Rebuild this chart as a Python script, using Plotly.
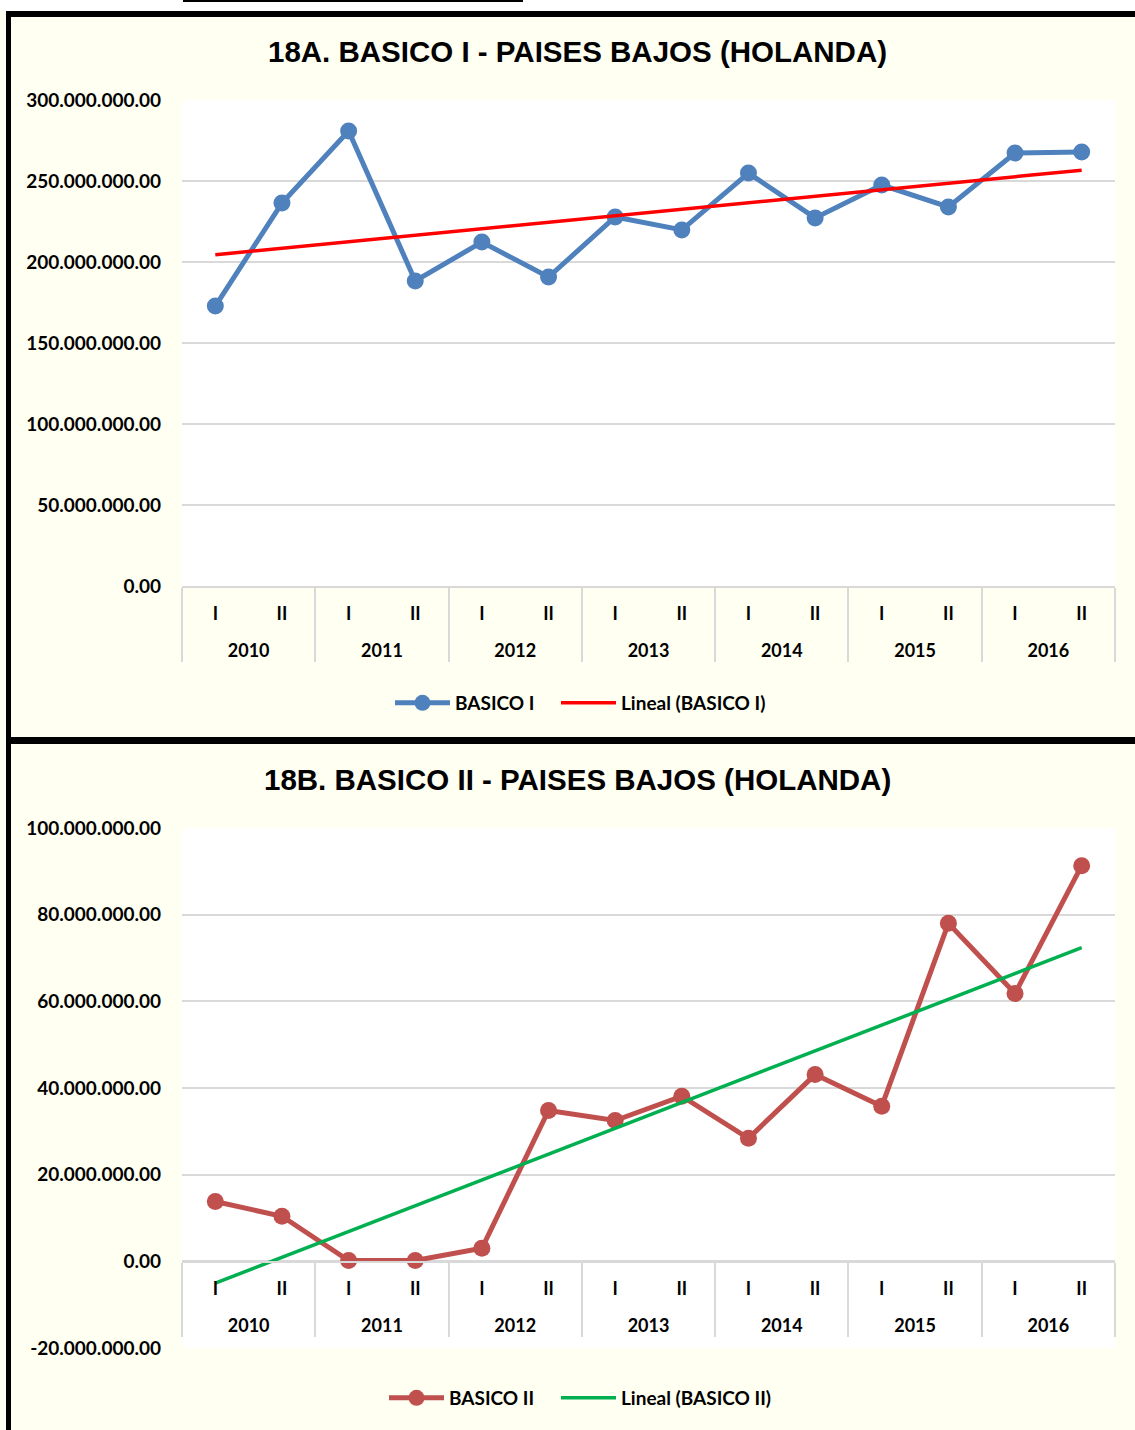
import numpy as np
import plotly.graph_objects as go

W, H = 1135, 1430

years = ["2010", "2011", "2012", "2013", "2014", "2015", "2016"]
halves = ["I", "II"]

# valores
basico_1 = [172.8e6, 236.4e6, 280.9e6, 188.3e6, 212.3e6, 190.7e6, 227.8e6,
            219.8e6, 254.9e6, 227.2e6, 247.5e6, 234.0e6, 267.3e6, 267.9e6]
basico_2 = [13.8e6, 10.4e6, 0.2e6, 0.2e6, 3.0e6, 34.8e6, 32.5e6,
            38.1e6, 28.4e6, 43.1e6, 35.8e6, 78.0e6, 61.8e6, 91.3e6]

ticks_1 = [0, 50e6, 100e6, 150e6, 200e6, 250e6, 300e6]
ticks_2 = [-20e6, 0, 20e6, 40e6, 60e6, 80e6, 100e6]

# el <br> baja la fila de los años
x_years = ["<br>" + y for y in years for h in halves]
x_halves = [h for y in years for h in halves]
xcat = [x_years, x_halves]


def fmt(v):
    return f"{v:,.2f}".replace(",", ".")


def trend(vals):
    t = np.arange(1, len(vals) + 1)
    a, b = np.polyfit(t, vals, 1)
    return a * t + b


def px(x):
    return x / W


def py(y):
    return 1 - y / H


CREAM = "#FFFFF2"
GRID = "#D9D9D9"
font_lbl = dict(family="Lato", size=18, color="black", weight="bold")
font_tick = dict(family="Lato", size=19, color="black", weight="bold")
font_leg = dict(family="Lato", size=19, color="black", weight="bold")

fig = go.Figure()

fig.add_trace(go.Scatter(
    x=xcat, y=basico_1, mode="lines+markers", name="BASICO I",
    line=dict(color="#4F81BD", width=5), marker=dict(size=17, color="#4F81BD"),
    xaxis="x", yaxis="y", legend="legend"))
fig.add_trace(go.Scatter(
    x=xcat, y=trend(basico_1), mode="lines", name="Lineal (BASICO I)",
    line=dict(color="#FF0000", width=3.5),
    xaxis="x", yaxis="y", legend="legend3"))

fig.add_trace(go.Scatter(
    x=xcat, y=basico_2, mode="lines+markers", name="BASICO II",
    line=dict(color="#C0504D", width=5), marker=dict(size=17, color="#C0504D"),
    xaxis="x2", yaxis="y2", legend="legend2"))
fig.add_trace(go.Scatter(
    x=xcat, y=trend(basico_2), mode="lines", name="Lineal (BASICO II)",
    line=dict(color="#00B050", width=3.5),
    xaxis="x2", yaxis="y2", legend="legend4"))

xax = dict(type="multicategory", showgrid=False, showline=True,
           linecolor=GRID, linewidth=1.5, showdividers=True,
           dividercolor=GRID, dividerwidth=1.5, tickfont=font_lbl,
           ticklabelstandoff=11, range=[-0.5, 13.5],
           domain=[px(182), px(1115)])
yax = dict(showgrid=True, gridcolor=GRID, gridwidth=1.5, zeroline=False,
           tickfont=font_tick, ticklabelstandoff=20, showline=False)


def leg(x, y):
    return dict(orientation="h", x=px(x), xanchor="left", y=py(y),
                yanchor="middle", font=font_leg, itemwidth=55,
                bgcolor="rgba(0,0,0,0)")


fig.update_layout(
    width=W, height=H,
    margin=dict(l=0, r=0, t=0, b=0, autoexpand=False),
    paper_bgcolor=CREAM, plot_bgcolor="white",
    xaxis=dict(xax, anchor="y"),
    yaxis=dict(yax, domain=[py(586), py(100)], range=[0, 300e6],
               tickvals=ticks_1, ticktext=[fmt(v) for v in ticks_1]),
    xaxis2=dict(xax, anchor="free", position=py(1262)),
    yaxis2=dict(yax, domain=[py(1348), py(828)], range=[-20e6, 100e6],
                tickvals=ticks_2, ticktext=[fmt(v) for v in ticks_2],
                anchor="x2"),
    legend=leg(390, 703),
    legend3=leg(556, 703),
    legend2=leg(384, 1398),
    legend4=leg(556, 1398),
    showlegend=True,
)

title_font = dict(family="Liberation Sans", size=29.5, color="black", weight="bold")
fig.add_annotation(text="18A. BASICO I - PAISES BAJOS (HOLANDA)", xref="paper", yref="paper",
                   x=px(577), y=py(51), xanchor="center", yanchor="middle",
                   showarrow=False, font=title_font)
fig.add_annotation(text="18B. BASICO II - PAISES BAJOS (HOLANDA)", xref="paper", yref="paper",
                   x=px(577), y=py(780), xanchor="center", yanchor="middle",
                   showarrow=False, font=title_font)

# franja blanca superior y marcos negros
fig.add_shape(type="rect", xref="paper", yref="paper", x0=0, x1=1, y0=py(11), y1=1,
              fillcolor="white", line_width=0)
fig.add_shape(type="line", xref="paper", yref="paper", x0=px(183), x1=px(523),
              y0=py(1), y1=py(1), line=dict(color="black", width=2))
fig.add_shape(type="line", xref="paper", yref="paper", x0=px(8.5), x1=px(8.5),
              y0=py(11), y1=0, line=dict(color="black", width=5))
fig.add_shape(type="line", xref="paper", yref="paper", x0=px(6), x1=1,
              y0=py(14), y1=py(14), line=dict(color="black", width=6))
fig.add_shape(type="line", xref="paper", yref="paper", x0=px(6), x1=1,
              y0=py(740.5), y1=py(740.5), line=dict(color="black", width=7))

fix_page = ("document.body.style.margin='0';"
            "var d=document.getElementById('{plot_id}');"
            "d.style.position='absolute';d.style.left='0px';d.style.top='0px';")
fig.write_html("out.html", post_script=fix_page, config={"displayModeBar": False})
